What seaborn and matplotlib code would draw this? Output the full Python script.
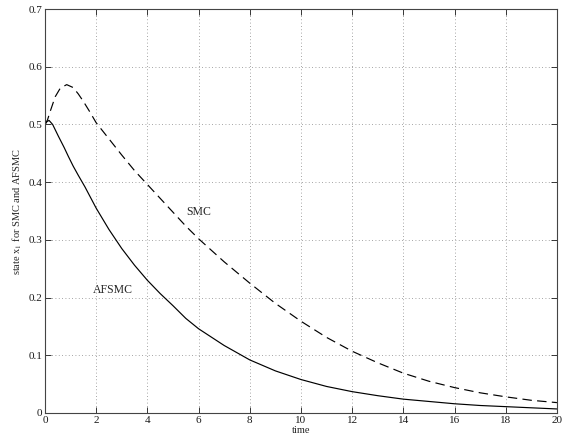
import numpy as np
import pandas as pd
import seaborn as sns
import matplotlib.pyplot as plt

# values
t_afsmc = [0, 0.08, 0.16, 0.3, 0.52, 0.75, 0.91, 1.1, 1.3, 1.56, 2, 2.5, 3,
           3.5, 4, 4.5, 5, 5.5, 6, 7, 8, 9, 10, 11, 12, 13, 14, 15, 16, 17,
           18, 19, 20]
x1_afsmc = [0.5, 0.505, 0.507, 0.5, 0.48, 0.46, 0.445, 0.428, 0.412, 0.392,
            0.355, 0.318, 0.285, 0.256, 0.230, 0.207, 0.186, 0.164, 0.146,
            0.117, 0.092, 0.073, 0.058, 0.046, 0.037, 0.030, 0.024, 0.020,
            0.016, 0.013, 0.011, 0.009, 0.007]

t_smc = [0, 0.1, 0.2, 0.4, 0.6, 0.85, 1.1, 1.3, 1.5, 1.75, 2, 2.5, 3, 3.5, 4,
         4.5, 5, 5.5, 6, 7, 8, 9, 10, 11, 12, 13, 14, 15, 16, 17, 18, 19, 20]
x1_smc = [0.5, 0.508, 0.522, 0.548, 0.563, 0.569, 0.564, 0.553, 0.540, 0.522,
          0.503, 0.475, 0.447, 0.420, 0.396, 0.372, 0.348, 0.324, 0.302,
          0.262, 0.225, 0.190, 0.159, 0.131, 0.107, 0.087, 0.069, 0.055,
          0.044, 0.035, 0.028, 0.022, 0.018]

x_ticks = list(range(0, 21, 2))
y_ticks = [0, 0.1, 0.2, 0.3, 0.4, 0.5, 0.6, 0.7]
y_ticklabels = ['0', '0.1', '0.2', '0.3', '0.4', '0.5', '0.6', '0.7']

df = pd.concat([
    pd.DataFrame({'time': t_afsmc, 'x1': x1_afsmc, 'ctrl': 'AFSMC'}),
    pd.DataFrame({'time': t_smc, 'x1': x1_smc, 'ctrl': 'SMC'}),
])

sns.set_style('ticks')
plt.rcParams['font.family'] = ['Liberation Serif', 'DejaVu Serif']
plt.rcParams['mathtext.fontset'] = 'stix'

fig = plt.figure(figsize=(5.62, 4.41), dpi=100)
ax = fig.add_axes([0.080, 0.0635, 0.911, 0.916])

sns.lineplot(data=df, x='time', y='x1', style='ctrl',
             dashes={'AFSMC': '', 'SMC': (8, 4.5)},
             color='black', linewidth=0.85, legend=False, ax=ax,
             estimator=None, sort=False)

ax.set_xlim(0, 20)
ax.set_ylim(0, 0.7)
ax.set_xticks(x_ticks)
ax.set_xticklabels([str(v) for v in x_ticks])
ax.set_yticks(y_ticks)
ax.set_yticklabels(y_ticklabels)
ax.grid(True, color='#888888', linestyle=(0, (1, 3)), linewidth=0.6)

ax.tick_params(direction='in', length=4, width=0.6, labelsize=8,
               top=True, right=True, pad=2, colors='#1a1a1a')
for s in ax.spines.values():
    s.set_linewidth(0.8)
    s.set_color('#444444')

ax.set_xlabel('time', fontsize=7.5, labelpad=1)
ax.set_ylabel('state x$_1$ for SMC and AFSMC', fontsize=7.5, labelpad=3)

ax.text(5.52, 0.348, 'SMC', fontsize=8.5, va='center', ha='left')
ax.text(1.88, 0.214, 'AFSMC', fontsize=8.5, va='center', ha='left')

fig.savefig('out.png', dpi=100)
